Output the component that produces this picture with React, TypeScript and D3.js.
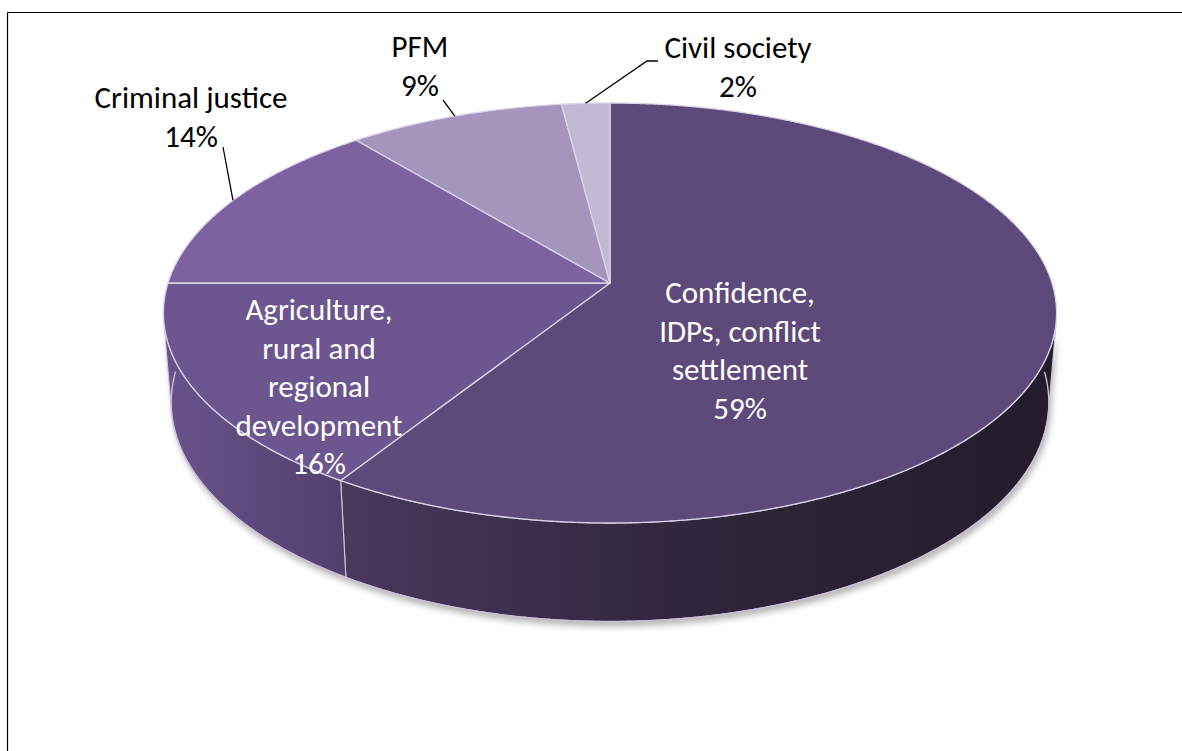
import React from "react";
import * as d3 from "d3";

// ---------- data ----------
const categories = [
  "Confidence, IDPs, conflict settlement",
  "Agriculture, rural and regional development",
  "Criminal justice",
  "PFM",
  "Civil society",
];
const values = [59, 16, 14, 9, 2];
const percentLabels = ["59%", "16%", "14%", "9%", "2%"];
const labelLines = [
  ["Confidence,", "IDPs, conflict", "settlement"],
  ["Agriculture,", "rural and", "regional", "development"],
  ["Criminal justice"],
  ["PFM"],
  ["Civil society"],
];
const topColors = ["#5e4a7a", "#6d5590", "#7d62a0", "#a595bc", "#c3b9d5"];

// ---------- layout ----------
const W = 1182;
const H = 751;
const CX = 610;
const CY = 283;
const R = 442;
const DEPTH = 102;
const TILT = Math.asin(0.4654);
const DIST = 2738;
const FONT = "Carlito, Calibri, Lato, 'Open Sans', sans-serif";
const FS = 31;
const LH = 38.5;

// label layout: inside labels (centre x, first baseline) / outside labels with leader points
const labelLayout = [
  { inside: true, x: 740, y: 303 },
  { inside: true, x: 319, y: 320 },
  { inside: false, x: 191, y: 108, leader: [[223, 147]] },
  { inside: false, x: 420, y: 57, leader: [[443, 100]] },
  { inside: false, x: 738, y: 58, leader: [[647, 61], [658, 61]] },
];

function project(theta: number, yWorld: number, r = R): [number, number] {
  const X = r * Math.sin(theta);
  const Z = -r * Math.cos(theta);
  const yp = yWorld * Math.cos(TILT) - Z * Math.sin(TILT);
  const zp = yWorld * Math.sin(TILT) + Z * Math.cos(TILT);
  const s = DIST / (DIST - zp);
  return [CX + X * s, CY - yp * s];
}

function rim(a: number, b: number, yWorld: number): [number, number][] {
  const n = Math.max(2, Math.ceil(Math.abs(b - a) / (Math.PI / 720)));
  const pts: [number, number][] = [];
  for (let i = 0; i <= n; i++) pts.push(project(a + ((b - a) * i) / n, yWorld));
  return pts;
}

const line = d3.line<[number, number]>();

// silhouette angles of the side wall
const cosS = -R / (DIST * Math.cos(TILT));
const S1 = Math.acos(cosS);
const S2 = 2 * Math.PI - S1;

const arcs = d3
  .pie<number>()
  .sort(null)
  .startAngle(0)
  .endAngle(2 * Math.PI)
  .value((d) => d)(values);

function sideColor(base: string, f: number) {
  return d3.interpolateRgb(base, "#141018")(f);
}
const gradStops = [
  [0, 0.04],
  [0.2, 0.3],
  [0.55, 0.6],
  [0.94, 0.78],
  [1, 0.8],
];

export default function App() {
  const shadowPts = [...rim(S1, S2, 0), ...rim(S2, S1, -DEPTH)];
  const bottomFront = rim(Math.PI / 2, (3 * Math.PI) / 2, -DEPTH);

  return (
    <svg
      width={W}
      height={H}
      viewBox={`0 0 ${W} ${H}`}
      style={{ position: "absolute", left: 0, top: 0, display: "block", background: "#fff" }}
    >
      <defs>
        <filter id="blur" x="-10%" y="-10%" width="120%" height="130%">
          <feGaussianBlur stdDeviation="3" />
        </filter>
        {topColors.map((c, i) => (
          <linearGradient
            key={i}
            id={`side-${i}`}
            gradientUnits="userSpaceOnUse"
            x1={CX - R}
            x2={CX + R}
            y1={0}
            y2={0}
          >
            {gradStops.map(([t, f], k) => (
              <stop key={k} offset={t} stopColor={sideColor(c, f)} />
            ))}
          </linearGradient>
        ))}
      </defs>

      {/* frame */}
      <line x1={7.5} y1={12.5} x2={W} y2={12.5} stroke="#000" strokeWidth={1.2} />
      <line x1={7.5} y1={12.5} x2={7.5} y2={H} stroke="#000" strokeWidth={1.2} />

      {/* shadow */}
      <path
        d={line(shadowPts) + "Z"}
        fill="#7a7a7a"
        opacity={0.55}
        filter="url(#blur)"
        transform="translate(2,5)"
      />

      {/* side walls */}
      {arcs.map((a, i) => {
        const s = Math.max(a.startAngle, S1);
        const e = Math.min(a.endAngle, S2);
        if (s >= e) return null;
        const pts = [...rim(s, e, 0), ...rim(e, s, -DEPTH)];
        return (
          <path
            key={`side-${i}`}
            d={line(pts) + "Z"}
            fill={`url(#side-${i})`}
            stroke="#cfc5dc"
            strokeWidth={1.1}
            strokeLinejoin="round"
          />
        );
      })}
      <path d={line(bottomFront)!} fill="none" stroke="#c9bfd6" strokeWidth={1.4} />

      {/* top faces */}
      {arcs.map((a, i) => {
        const pts: [number, number][] = [[CX, CY], ...rim(a.startAngle, a.endAngle, 0)];
        return (
          <path
            key={`top-${i}`}
            d={line(pts) + "Z"}
            fill={topColors[i]}
            stroke="#dcd3e8"
            strokeWidth={1.3}
            strokeLinejoin="round"
          />
        );
      })}

      {/* leader lines */}
      {arcs.map((a, i) => {
        const L = labelLayout[i];
        if (L.inside || !L.leader) return null;
        const mid = (a.startAngle + a.endAngle) / 2;
        const start = project(mid, 0);
        const pts: [number, number][] = [start, ...(L.leader as [number, number][])];
        return <path key={`lead-${i}`} d={line(pts)!} fill="none" stroke="#000" strokeWidth={1.3} />;
      })}

      {/* labels */}
      {arcs.map((a, i) => {
        const L = labelLayout[i];
        const lines = [...labelLines[i], percentLabels[i]];
        return (
          <text
            key={`lab-${i}`}
            x={L.x}
            y={L.y}
            textAnchor="middle"
            fontFamily={FONT}
            fontSize={FS}
            fill={L.inside ? "#ffffff" : "#000000"}
          >
            {lines.map((t, k) => (
              <tspan key={k} x={L.x} y={L.y + k * LH}>
                {t}
              </tspan>
            ))}
          </text>
        );
      })}
    </svg>
  );
}
